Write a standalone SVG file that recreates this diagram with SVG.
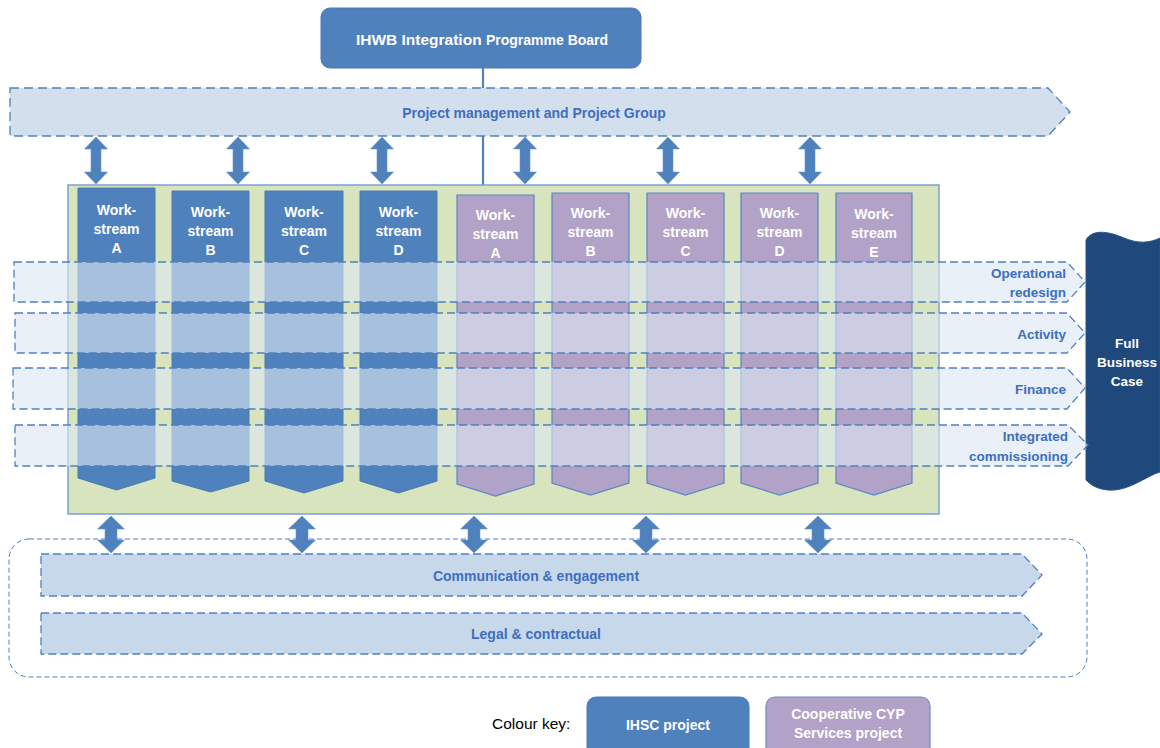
<svg xmlns="http://www.w3.org/2000/svg" width="1160" height="748" viewBox="0 0 1160 748">
<style>
  .t { font-family: "Liberation Sans", Arial, sans-serif; font-weight: bold; }
  .w { fill: #ffffff; font-size: 14px; text-anchor: middle; }
  .lbl { fill: #3d6fbe; font-size: 13.5px; }
  .blue { fill: #4f81bd; stroke: #4a7ab5; stroke-width: 1; }
  .purple { fill: #b2a2c7; stroke: #5b86c5; stroke-width: 1.2; }
  .band { fill: #dce6f2; fill-opacity: 0.62; stroke: #4f81bd; stroke-width: 1.3; stroke-dasharray: 8 4; }
  .bar { fill: #c8d8eb; stroke: #4f81bd; stroke-width: 1.3; stroke-dasharray: 8 4; }
  .arr { fill: #4f81bd; stroke: #6d97cc; stroke-width: 0.6; }
</style>
<rect width="1160" height="748" fill="#ffffff"/>

<g id="connectors">
  <line x1="483" y1="68" x2="483" y2="88" stroke="#4f81bd" stroke-width="2.2"/>
  <line x1="483" y1="128" x2="483" y2="185" stroke="#4f81bd" stroke-width="2.2"/>
  <!-- top double arrows -->
  <path class="arr" d="M96,137 L107.5,149 L101,149 L101,172 L107.5,172 L96,184 L84.5,172 L91,172 L91,149 L84.5,149 Z"/>
  <path class="arr" d="M238,137 L249.5,149 L243,149 L243,172 L249.5,172 L238,184 L226.5,172 L233,172 L233,149 L226.5,149 Z"/>
  <path class="arr" d="M382,137 L393.5,149 L387,149 L387,172 L393.5,172 L382,184 L370.5,172 L377,172 L377,149 L370.5,149 Z"/>
  <path class="arr" d="M525,137 L536.5,149 L530,149 L530,172 L536.5,172 L525,184 L513.5,172 L520,172 L520,149 L513.5,149 Z"/>
  <path class="arr" d="M668,137 L679.5,149 L673,149 L673,172 L679.5,172 L668,184 L656.5,172 L663,172 L663,149 L656.5,149 Z"/>
  <path class="arr" d="M810,137 L821.5,149 L815,149 L815,172 L821.5,172 L810,184 L798.5,172 L805,172 L805,149 L798.5,149 Z"/>
  <!-- bottom double arrows -->
  <path class="arr" d="M111,516 L124.5,529 L117,529 L117,540 L124.5,540 L111,553 L97.5,540 L105,540 L105,529 L97.5,529 Z"/>
  <path class="arr" d="M302,516 L315.5,529 L308,529 L308,540 L315.5,540 L302,553 L288.5,540 L296,540 L296,529 L288.5,529 Z"/>
  <path class="arr" d="M474,516 L487.5,529 L480,529 L480,540 L487.5,540 L474,553 L460.5,540 L468,540 L468,529 L460.5,529 Z"/>
  <path class="arr" d="M646,516 L659.5,529 L652,529 L652,540 L659.5,540 L646,553 L632.5,540 L640,540 L640,529 L632.5,529 Z"/>
  <path class="arr" d="M818,516 L831.5,529 L824,529 L824,540 L831.5,540 L818,553 L804.5,540 L812,540 L812,529 L804.5,529 Z"/>
</g>

<g id="board">
  <rect x="321" y="8" width="320" height="60" rx="9" fill="#4f81bd" stroke="#4a7ab5"/>
  <text x="482" y="45" class="t" fill="#ffffff" text-anchor="middle"><tspan font-size="15.5">IHWB Integration </tspan><tspan font-size="14">Programme Board</tspan></text>
</g>

<g id="project-management">
  <path d="M10,88 L1048,88 L1070,112 L1048,136 L10,136 Z" fill="#d4dfee" stroke="#4f81bd" stroke-width="1.3" stroke-dasharray="9 5"/>
  <text x="534" y="118" class="t lbl" text-anchor="middle" style="font-size:14px">Project management and Project Group</text>
</g>

<g id="programme-area">
  <rect x="68" y="185" width="871" height="329" fill="#d7e4bd" stroke="#7ba0cf" stroke-width="1.5"/>
</g>

<g id="ihsc-workstream-a">
  <polygon class="blue" points="78,188 155,188 155,478 116.5,490 78,478"/>
  <text class="t w" x="116.5" y="215">Work-</text><text class="t w" x="116.5" y="234">stream</text><text class="t w" x="116.5" y="253">A</text>
</g>
<g id="ihsc-workstream-b">
  <polygon class="blue" points="172,191 249,191 249,481 210.5,492 172,481"/>
  <text class="t w" x="210.5" y="217">Work-</text><text class="t w" x="210.5" y="236">stream</text><text class="t w" x="210.5" y="255">B</text>
</g>
<g id="ihsc-workstream-c">
  <polygon class="blue" points="265,191 343,191 343,481 304,493 265,481"/>
  <text class="t w" x="304" y="217">Work-</text><text class="t w" x="304" y="236">stream</text><text class="t w" x="304" y="255">C</text>
</g>
<g id="ihsc-workstream-d">
  <polygon class="blue" points="360,191 437,191 437,481 398.5,493 360,481"/>
  <text class="t w" x="398.5" y="217">Work-</text><text class="t w" x="398.5" y="236">stream</text><text class="t w" x="398.5" y="255">D</text>
</g>
<g id="cyp-workstream-a">
  <polygon class="purple" points="457,195 534,195 534,484 495.5,496 457,484"/>
  <text class="t w" x="495.5" y="220">Work-</text><text class="t w" x="495.5" y="239">stream</text><text class="t w" x="495.5" y="258">A</text>
</g>
<g id="cyp-workstream-b">
  <polygon class="purple" points="552,193 629,193 629,483 590.5,495 552,483"/>
  <text class="t w" x="590.5" y="218">Work-</text><text class="t w" x="590.5" y="237">stream</text><text class="t w" x="590.5" y="256">B</text>
</g>
<g id="cyp-workstream-c">
  <polygon class="purple" points="647,193 724,193 724,483 685.5,495 647,483"/>
  <text class="t w" x="685.5" y="218">Work-</text><text class="t w" x="685.5" y="237">stream</text><text class="t w" x="685.5" y="256">C</text>
</g>
<g id="cyp-workstream-d">
  <polygon class="purple" points="741,193 818,193 818,483 779.5,495 741,483"/>
  <text class="t w" x="779.5" y="218">Work-</text><text class="t w" x="779.5" y="237">stream</text><text class="t w" x="779.5" y="256">D</text>
</g>
<g id="cyp-workstream-e">
  <polygon class="purple" points="836,193 912,193 912,483 874,495 836,483"/>
  <text class="t w" x="874" y="219">Work-</text><text class="t w" x="874" y="238">stream</text><text class="t w" x="874" y="257">E</text>
</g>

<g id="full-business-case">
  <path d="M1086,240 C1092,229 1108,231 1124,238 C1138,244 1150,243 1160,238 L1160,472 C1146,476 1128,492 1108,490 C1096,489 1090,484 1086,480 Z" fill="#1f497d" stroke="#2a5590" stroke-width="1"/>
  <text class="t w" x="1127" y="348" style="font-size:13.5px">Full</text>
  <text class="t w" x="1127" y="367" style="font-size:13.5px">Business</text>
  <text class="t w" x="1127" y="386" style="font-size:13.5px">Case</text>
</g>

<g id="band-operational-redesign">
  <path class="band" d="M14,262 L1067,262 L1085,282 L1067,302 L14,302 Z"/>
  <text class="t lbl" x="1066" y="278" text-anchor="end">Operational</text>
  <text class="t lbl" x="1066" y="297" text-anchor="end">redesign</text>
</g>
<g id="band-activity">
  <path class="band" d="M15,313 L1067,313 L1085,333 L1067,353 L15,353 Z"/>
  <text class="t lbl" x="1066" y="339" text-anchor="end">Activity</text>
</g>
<g id="band-finance">
  <path class="band" d="M13,368 L1067,368 L1085,388 L1067,409 L13,409 Z"/>
  <text class="t lbl" x="1066" y="394" text-anchor="end">Finance</text>
</g>
<g id="band-integrated-commissioning">
  <path class="band" d="M15,425 L1068,425 L1088,445 L1068,466 L15,466 Z"/>
  <text class="t lbl" x="1068" y="441" text-anchor="end">Integrated</text>
  <text class="t lbl" x="1068" y="461" text-anchor="end">commissioning</text>
</g>

<g id="enablers">
  <rect x="9" y="539" width="1078" height="138" rx="20" fill="none" stroke="#4f81bd" stroke-width="1" stroke-dasharray="5 3"/>
</g>
<g id="communication-engagement">
  <path class="bar" d="M41,554 L1022,554 L1042,575 L1022,596 L41,596 Z"/>
  <text class="t lbl" x="536" y="581" text-anchor="middle" style="font-size:14px">Communication &amp; engagement</text>
</g>
<g id="legal-contractual">
  <path class="bar" d="M41,613 L1022,613 L1042,634 L1022,654 L41,654 Z"/>
  <text class="t lbl" x="536" y="639" text-anchor="middle" style="font-size:14px">Legal &amp; contractual</text>
</g>

<g id="colour-key">
  <text x="492" y="729" font-family="'Liberation Sans', Arial, sans-serif" font-size="15.5" fill="#000000">Colour key:</text>
</g>
<g id="key-ihsc">
  <rect x="587" y="697" width="162" height="60" rx="9" fill="#4f81bd" stroke="#4a7ab5"/>
  <text class="t w" x="668" y="730" style="font-size:14px">IHSC project</text>
</g>
<g id="key-cyp">
  <rect x="766" y="697" width="164" height="60" rx="9" fill="#b2a2c7" stroke="#6c8ebf" stroke-width="1.2"/>
  <text class="t w" x="848" y="719" style="font-size:14px" fill="#f4f4f8">Cooperative CYP</text>
  <text class="t w" x="848" y="738" style="font-size:14px" fill="#f4f4f8">Services project</text>
</g>
</svg>
